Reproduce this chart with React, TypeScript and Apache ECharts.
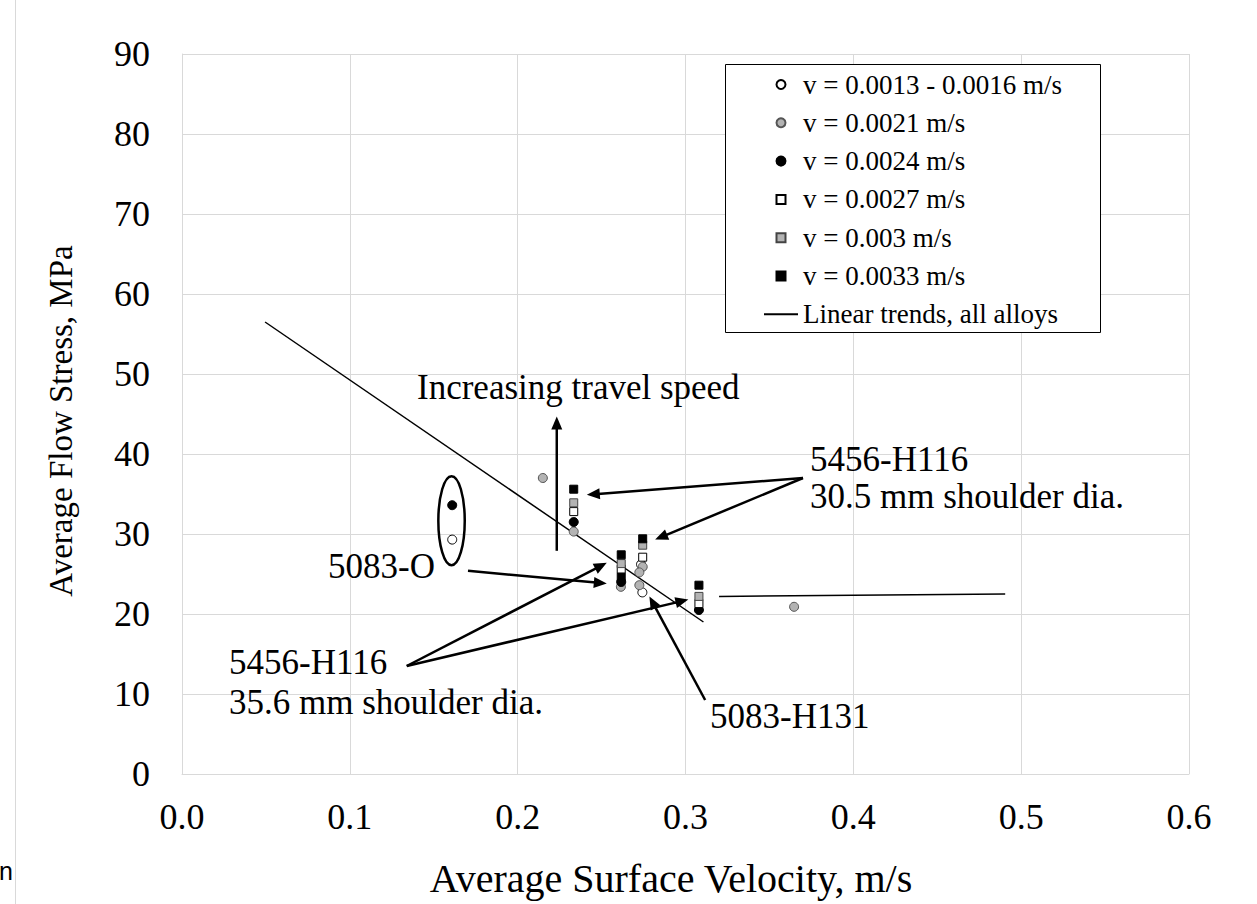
import React, { useEffect, useRef } from "react";
import * as echarts from "echarts";

const FONT = '"Liberation Serif", "Times New Roman", serif';

const seriesNames = [
  "v = 0.0013 - 0.0016 m/s",
  "v = 0.0021 m/s",
  "v = 0.0024 m/s",
  "v = 0.0027 m/s",
  "v = 0.003 m/s",
  "v = 0.0033 m/s",
  "Linear trends, all alloys",
];

const whiteCircles = [[0.161, 29.3], [0.2735, 26.2], [0.2743, 22.7]];
const grayCircles = [[0.215, 37.0], [0.2334, 30.3], [0.2615, 23.4], [0.2745, 25.9], [0.2725, 25.2], [0.2725, 23.6], [0.3647, 20.9]];
const blackCircles = [[0.161, 33.6], [0.2334, 31.5], [0.2617, 24.0], [0.308, 20.5]];
const whiteSquares = [[0.2334, 32.8], [0.2617, 25.6], [0.2745, 27.1], [0.308, 21.3]];
const graySquares = [[0.2334, 33.9], [0.2617, 26.3], [0.2745, 28.6], [0.308, 22.2]];
const blackSquares = [[0.2334, 35.6], [0.2617, 27.4], [0.2617, 24.6], [0.2745, 29.4], [0.308, 23.6]];

const trendLineA = [[0.0495, 56.5], [0.3107, 19.0]];
const trendLineB = [[0.32, 22.2], [0.4905, 22.5]];

// [x1, y1, x2 (tip), y2 (tip)]
const arrows = [
  [0.2233, 27.9, 0.2233, 44.7],
  [0.370, 37.0, 0.2412, 34.9],
  [0.370, 37.0, 0.2819, 29.3],
  [0.1704, 25.4, 0.2531, 23.8],
  [0.1339, 13.5, 0.2531, 26.4],
  [0.1339, 13.5, 0.3017, 21.8],
  [0.3117, 9.25, 0.2785, 22.2],
];

// [cx, cy, half-width, half-height]
const ellipses = [[0.1606, 31.66, 0.00787, 5.56]];

const xMin = 0, xMax = 0.6, xStep = 0.1;
const yMin = 0, yMax = 90, yStep = 10;

const GRAY = "#b3b3b3";

// square legend icon centred in the 34 x 9 icon box
const SQUARE_ICON = "path://M0,0M34,9M12.5,0L21.5,0L21.5,9L12.5,9Z";

function scatter(name: string, data: number[][], symbol: string, size: number, fill: string, border: string) {
  return {
    name,
    type: "scatter",
    data,
    symbol,
    symbolSize: size,
    symbolKeepAspect: true,
    itemStyle: { color: fill, borderColor: border, borderWidth: 1, opacity: 1 },
    emphasis: { disabled: true },
    z: 3,
  };
}

export default function App() {
  const ref = useRef<HTMLDivElement>(null);
  useEffect(() => {
    if (!ref.current) return;
    const chart = echarts.init(ref.current, null, { renderer: "svg" });
    const txt = (text: string, x: number, y: number, size: number, extra: any = {}) => ({
      type: "text",
      x,
      y,
      z: 5,
      style: {
        text,
        fontFamily: FONT,
        fontSize: size,
        fill: "#000",
        align: "left",
        verticalAlign: "middle",
        ...extra,
      },
    });
    chart.setOption({
      animation: false,
      backgroundColor: "#fff",
      grid: { left: 182, right: 68, top: 54, bottom: 130, containLabel: false },
      xAxis: {
        type: "value",
        min: xMin,
        max: xMax,
        interval: xStep,
        axisLine: { show: true, lineStyle: { color: "#d9d9d9", width: 1 } },
        axisTick: { show: false },
        splitLine: { show: true, lineStyle: { color: "#d9d9d9", width: 1 } },
        axisLabel: {
          margin: 25,
          fontFamily: FONT,
          fontSize: 36,
          color: "#000",
          formatter: (v: number) => v.toFixed(1),
        },
      },
      yAxis: {
        type: "value",
        min: yMin,
        max: yMax,
        interval: yStep,
        axisLine: { show: true, lineStyle: { color: "#d9d9d9", width: 1 } },
        axisTick: { show: false },
        splitLine: { show: true, lineStyle: { color: "#d9d9d9", width: 1 } },
        axisLabel: { margin: 32, fontFamily: FONT, fontSize: 36, color: "#000" },
      },
      legend: {
        orient: "vertical",
        left: 763,
        top: 71,
        padding: 0,
        itemWidth: 34,
        itemHeight: 9,
        itemGap: 11.3,
        selectedMode: false,
        symbolKeepAspect: true,
        textStyle: { fontFamily: FONT, fontSize: 27, lineHeight: 27, color: "#000" },
        data: [
          { name: seriesNames[0], icon: "circle" },
          { name: seriesNames[1], icon: "circle" },
          { name: seriesNames[2], icon: "circle" },
          { name: seriesNames[3], icon: SQUARE_ICON },
          { name: seriesNames[4], icon: SQUARE_ICON },
          { name: seriesNames[5], icon: SQUARE_ICON },
          { name: seriesNames[6], itemStyle: { color: "transparent", borderColor: "transparent", borderWidth: 0, opacity: 0 } },
        ],
        z: 6,
      },
      series: [
        scatter(seriesNames[0], whiteCircles, "circle", 9, "#ffffff", "#000"),
        scatter(seriesNames[1], grayCircles, "circle", 9, GRAY, "#555"),
        scatter(seriesNames[2], blackCircles, "circle", 9, "#000000", "#000"),
        scatter(seriesNames[3], whiteSquares, "rect", 8, "#ffffff", "#000"),
        scatter(seriesNames[4], graySquares, "rect", 8, GRAY, "#444"),
        scatter(seriesNames[5], blackSquares, "rect", 8, "#000000", "#000"),
        {
          name: seriesNames[6],
          type: "line",
          data: trendLineA,
          showSymbol: false,
          symbol: "none",
          lineStyle: { color: "#000", width: 1.5 },
          itemStyle: { color: "#000" },
          z: 2,
        },
        {
          name: seriesNames[6],
          type: "line",
          data: trendLineB,
          showSymbol: false,
          symbol: "none",
          lineStyle: { color: "#000", width: 1.5 },
          itemStyle: { color: "#000" },
          z: 2,
        },
        {
          name: "arrows",
          type: "custom",
          data: arrows,
          encode: { x: [0, 2], y: [1, 3] },
          z: 4,
          renderItem: (_params: any, api: any) => {
            const p1 = api.coord([api.value(0), api.value(1)]);
            const p2 = api.coord([api.value(2), api.value(3)]);
            const dx = p2[0] - p1[0];
            const dy = p2[1] - p1[1];
            const len = Math.hypot(dx, dy) || 1;
            const ux = dx / len;
            const uy = dy / len;
            const headLen = 13;
            const headW = 5.5;
            const bx = p2[0] - ux * headLen;
            const by = p2[1] - uy * headLen;
            return {
              type: "group",
              children: [
                {
                  type: "line",
                  shape: { x1: p1[0], y1: p1[1], x2: bx + ux * 2, y2: by + uy * 2 },
                  style: { stroke: "#000", lineWidth: 2.5 },
                },
                {
                  type: "polygon",
                  shape: {
                    points: [
                      [p2[0], p2[1]],
                      [bx - uy * headW, by + ux * headW],
                      [bx + uy * headW, by - ux * headW],
                    ],
                  },
                  style: { fill: "#000", stroke: "none" },
                },
              ],
            };
          },
        },
        {
          name: "ellipse",
          type: "custom",
          data: ellipses,
          encode: { x: 0, y: 1 },
          z: 4,
          renderItem: (_params: any, api: any) => {
            const c = api.coord([api.value(0), api.value(1)]);
            const s = api.size([api.value(2), api.value(3)]);
            return {
              type: "ellipse",
              shape: { cx: c[0], cy: c[1], rx: s[0], ry: s[1] },
              style: { fill: "none", stroke: "#000", lineWidth: 2.5 },
            };
          },
        },
      ],
      graphic: [
        {
          type: "rect",
          z: 3,
          shape: { x: 725.5, y: 64.5, width: 375, height: 268 },
          style: { fill: "#fff", stroke: "#000", lineWidth: 1 },
        },
        {
          type: "line",
          z: 1,
          shape: { x1: 15.5, y1: 0, x2: 15.5, y2: 904 },
          style: { stroke: "#d9d9d9", lineWidth: 1 },
        },
        {
          type: "text",
          x: -1,
          y: 871,
          z: 1,
          style: { text: "n", fontFamily: '"Liberation Sans", Arial, sans-serif', fontSize: 25, fill: "#000", verticalAlign: "middle" },
        },
        txt("Increasing travel speed", 417, 387, 35),
        txt("5456-H116", 810, 459, 35),
        txt("30.5 mm shoulder dia.", 810, 496, 35),
        txt("5083-O", 328, 566, 35),
        txt("5456-H116", 229, 662, 35),
        txt("35.6 mm shoulder dia.", 229, 702, 35),
        txt("5083-H131", 710, 716, 35),
        txt("Average Surface Velocity, m/s", 671, 878, 40, { align: "center" }),
        {
          type: "text",
          x: 61,
          y: 421,
          rotation: Math.PI / 2,
          z: 5,
          style: {
            text: "Average Flow Stress, MPa",
            fontFamily: FONT,
            fontSize: 33,
            fill: "#000",
            align: "center",
            verticalAlign: "middle",
          },
        },
      ],
    });
    return () => chart.dispose();
  }, []);
  return (
    <div
      ref={ref}
      style={{ position: "absolute", left: 0, top: 0, width: 1257, height: 904, background: "#fff" }}
    />
  );
}
